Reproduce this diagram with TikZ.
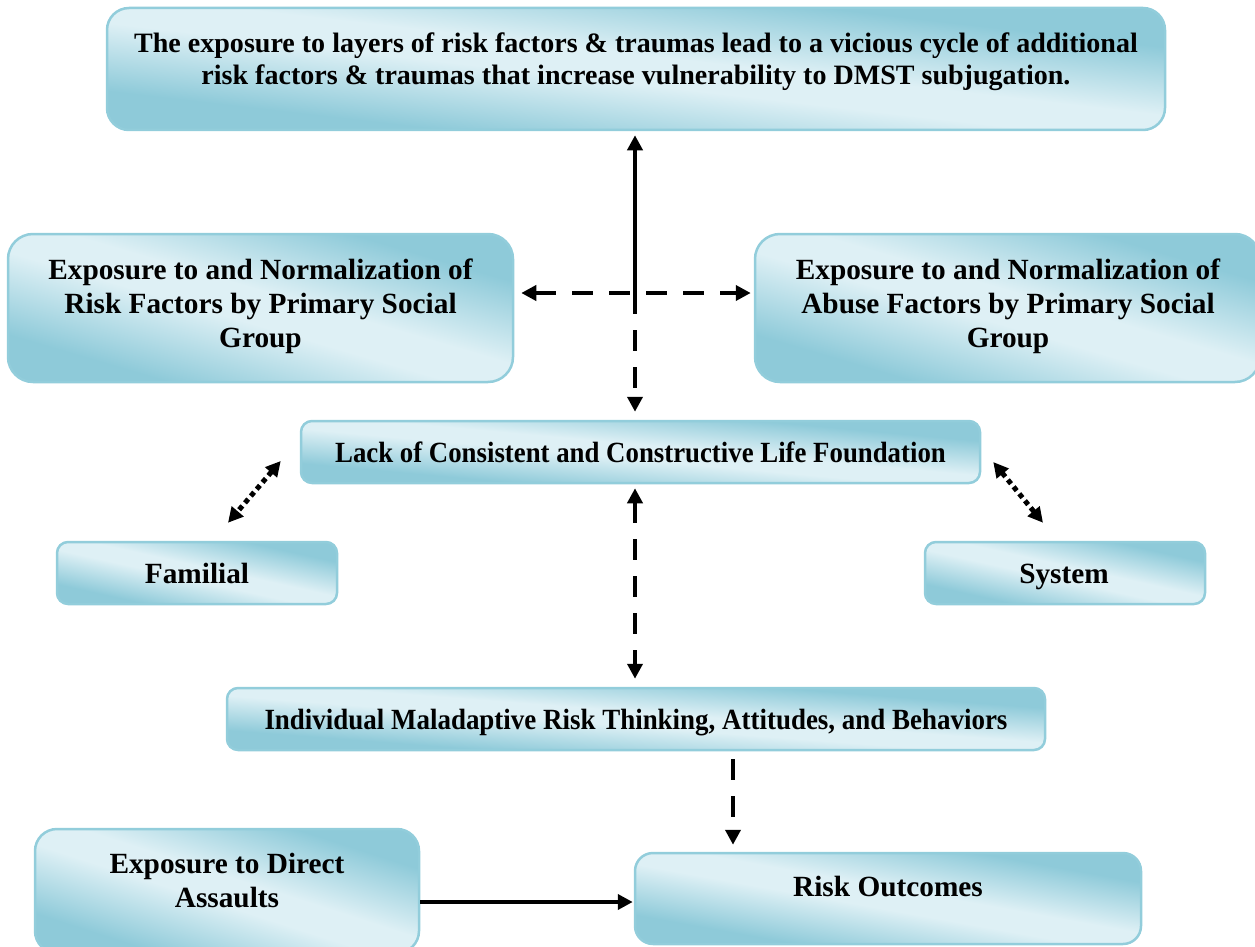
\documentclass[tikz,border=0pt]{standalone}
\usepackage{fontspec}
\setmainfont{Liberation Serif}
\usetikzlibrary{arrows.meta,calc}

\definecolor{boxdark}{RGB}{142,202,217}
\definecolor{boxlight}{RGB}{222,240,245}
\definecolor{boxedge}{RGB}{146,205,219}

% soft band: light along the box diagonal, darker towards two corners
\pgfdeclareverticalshading{boxfill}{100bp}{color(0bp)=(boxdark); color(33bp)=(boxdark);
  color(47bp)=(boxlight); color(53bp)=(boxlight); color(67bp)=(boxdark); color(100bp)=(boxdark)}

\tikzset{
  box/.style n args={3}{draw=boxedge, line width=2.5pt, rounded corners=#1,
    minimum width=#2pt, minimum height=#3pt, inner sep=0pt,
    path picture={
      \pgfmathsetmacro\bang{atan(#3/#2)}
      \pgfmathsetmacro\bhh{0.5*#2*sin(\bang)+0.5*#3*cos(\bang)}
      \pgfmathsetmacro\bww{0.5*#2*cos(\bang)+0.5*#3*sin(\bang)+6}
      \shade[shading=boxfill,
        transform canvas={rotate around={-\bang:(path picture bounding box.center)}}]
        ([shift={(-\bww pt,-\bhh pt)}]path picture bounding box.center) rectangle
        ([shift={(\bww pt,\bhh pt)}]path picture bounding box.center);
    }},
  txt/.style={font=\bfseries\fontsize{29.3}{33.8}\selectfont, align=center, inner sep=0pt},
  line/.style={txt, text height=20pt, text depth=0pt},
  conn/.style={line width=4.5pt, -{Triangle[length=15pt,width=15pt]}},
  twoway/.style={line width=4.5pt, {Triangle[length=15pt,width=15pt]}-{Triangle[length=15pt,width=15pt]}},
  dashline/.style={dash pattern=on 21pt off 16pt},
  dotline/.style={line width=5pt, dash pattern=on 5pt off 4pt}
}

\begin{document}
\begin{tikzpicture}[x=1pt, y=-1pt]
\useasboundingbox (0,0) rectangle (1255,947);

% boxes
\node[box={22pt}{1058}{122}] (top) at (636,69) {};
\node[box={25pt}{505}{148}] (left) at (260.5,308) {};
\node[box={25pt}{505}{148}] (right) at (1007.5,308) {};
\node[box={11pt}{679}{62}] (lack) at (640.5,452) {};
\node[box={11pt}{280}{62}] (fam) at (197,573) {};
\node[box={11pt}{280}{62}] (sys) at (1065,573) {};
\node[box={11pt}{818}{62}] (ind) at (636,719) {};
\node[box={22pt}{384}{124}] (exp) at (227,891) {};
\node[box={18pt}{506}{91}] (risk) at (888,898.5) {};

% texts
\node[txt, font=\bfseries\fontsize{28.05}{32.2}\selectfont] at (636,61.5)
  {The exposure to layers of risk factors \& traumas lead to a vicious cycle of additional\\
   risk factors \& traumas that increase vulnerability to DMST subjugation.};
\node[txt] at (260.5,306.5) {Exposure to and Normalization of\\Risk Factors by Primary Social\\Group};
\node[txt] at (1008,306.5) {Exposure to and Normalization of\\Abuse Factors by Primary Social\\Group};
\node[line] at (640.5,452) {\scalebox{0.915}[1]{Lack of Consistent and Constructive Life Foundation}};
\node[line] at (197,573) {Familial};
\node[line] at (1064,573) {System};
\node[line] at (636,719) {\scalebox{0.92}[1]{Individual Maladaptive Risk Thinking, Attitudes, and Behaviors}};
\node[txt] at (227,880.5) {Exposure to Direct\\Assaults};
\node[line] at (888,886) {Risk Outcomes};

% connectors
\coordinate (cross) at (635,293);
\draw[conn, shorten >=4pt] (cross) -- (cross |- top.south);
\draw[twoway, dashline, shorten <=7pt, shorten >=3pt] (cross -| left.east) -- (cross -| right.west);
\draw[conn, dashline, shorten >=8pt] (cross) -- (cross |- lack.north);
\draw[twoway, dashline, shorten <=4pt, shorten >=8pt] (cross |- lack.south) -- (cross |- ind.north);
\draw[twoway, dotline] ([shift={(-19,9)}]lack.west) -- ([shift={(31,-18)}]fam.north);
\draw[twoway, dotline] ([shift={(12,10)}]lack.east) -- ([shift={(-22,-18)}]sys.north);
\coordinate (drop) at ($(ind.south)+(97,0)$);
\draw[conn, dashline, shorten <=8pt, shorten >=7pt] (drop) -- (drop |- risk.north);
\coordinate (hit) at ([yshift=-3.5pt]risk.west);
\draw[conn, shorten >=1pt] (exp.east |- hit) -- (hit);
\end{tikzpicture}
\end{document}
